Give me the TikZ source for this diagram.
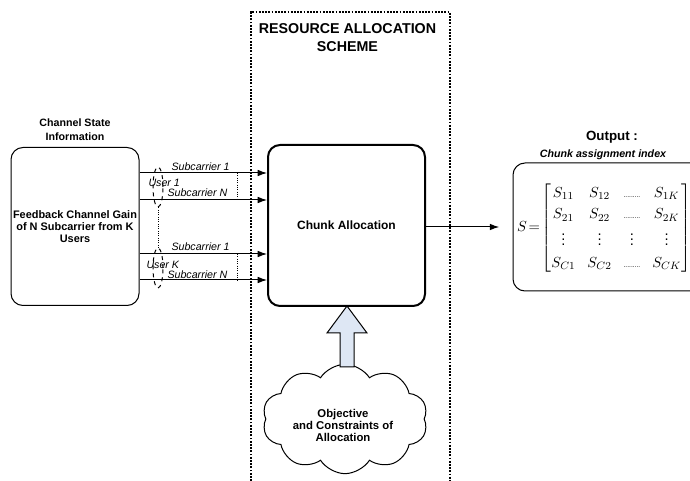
\documentclass[tikz,border=0pt]{standalone}
\usepackage{fontspec}
\setmainfont{Liberation Sans}
\usepackage{amsmath}
\usetikzlibrary{arrows.meta,shapes.geometric,shapes.symbols,positioning,calc}

\tikzset{every picture/.style={line width=0.75pt}}
\tikzset{
  roundbox/.style={draw, rounded corners=9pt, fill=white, inner sep=0pt},
  headtxt/.style={font=\fontsize{8}{10.5}\selectfont\bfseries, align=center, inner sep=0.75pt},
  boxtxt/.style={font=\fontsize{8.2}{9}\selectfont\bfseries, align=center, inner sep=0.75pt},
  subtxt/.style={font=\fontsize{8}{9}\selectfont\itshape, inner sep=0.75pt},
  feed/.style={-{Latex[length=7pt,width=5pt]}},
  usergrp/.style={draw, dashed, ellipse, minimum width=7.5pt, minimum height=30pt, inner sep=0pt},
  frameline/.style={densely dotted, line width=1.4pt},
}

\begin{document}
\begin{tikzpicture}[x=0.75pt,y=0.75pt,yscale=-1,xscale=1]
\useasboundingbox (0,0) rectangle (690,481);

%Shape: dotted frame of the scheme
\draw [frameline] (251,481) -- (251,12) -- (450,12) -- (450,481) ;

% Boxes
\node [roundbox, minimum width=96pt, minimum height=118.5pt] (fb) at (75,226.5) {};
\node [roundbox, line width=1.5pt, minimum width=117.75pt, minimum height=120.75pt] (alloc) at (346.5,225.5) {};
\node [roundbox, minimum width=144pt, minimum height=96pt] (out) at (609,227) {};

% Cloud
\node [draw, cloud, cloud puffs=10, cloud puff arc=115, aspect=1.55, minimum width=124pt, minimum height=82pt, inner sep=0pt] (goal) at (345,419) {};

%Shape: block arrow
\draw [fill={rgb, 255:red, 222; green, 231; blue, 244 }] (340,367) -- (340,333) -- (327,333) -- (347,306) -- (367,333) -- (354,333) -- (354,367) -- cycle ;

% Rows of feedback lines
\coordinate (r1) at (237,173);
\coordinate (r2) at (237,200);
\coordinate (r3) at (237,254);
\coordinate (r4) at (237,280);
\draw [feed] (fb.east |- r1) -- (alloc.west |- r1) ;
\draw [feed] (fb.east |- r2) -- (alloc.west |- r2) ;
\draw [feed] (fb.east |- r3) -- (alloc.west |- r3) ;
\draw [feed] (fb.east |- r4) -- (alloc.west |- r4) ;
\draw [densely dotted] (r1) -- (r2) ;
\draw [densely dotted] (r3) -- (r4) ;

% User groups
\node [usergrp] (grp1) at (158,187) {};
\node [usergrp] (grpK) at (158,268) {};
\draw [densely dotted] (grp1.south) -- (grpK.north) ;

% Output
\draw [feed] (alloc.east |- out) -- ([xshift=-10pt]out.west) ;

% Text Node
\node [font=\fontsize{10.7}{13.5}\selectfont\bfseries, align=center, inner sep=0.75pt] (title) at (347.5,38) {RESOURCE ALLOCATION\\SCHEME};
% Text Node
\node [headtxt] (csi) at (75,130) {Channel State\\Information};
% Text Node
\node [boxtxt] (fbtxt) at (fb.center) {Feedback Channel Gain\\of N Subcarrier from K\\Users};
% Text Node
\node [font=\fontsize{9}{11}\selectfont\bfseries, inner sep=0.75pt] (alloctxt) at (alloc.center) {Chunk Allocation};
% Text Node
\node [font=\fontsize{8.5}{9}\selectfont\bfseries, align=center, inner sep=0.75pt] (goaltxt) at (343,425) {Objective\\and Constraints of\\Allocation};
% Text Node
\node [font=\fontsize{10}{12}\selectfont\bfseries, inner sep=0.75pt] (outhead) at (612,137) {Output :};
% Text Node
\node [font=\fontsize{8}{10}\selectfont\bfseries\itshape, inner sep=0.75pt] (outsub) at (603,155) {Chunk assignment index};
% Text Node
\node [inner sep=0.75pt, font=\fontsize{11}{13}\selectfont] (mat) at (604,228) {$S\!=\!\setlength{\arraycolsep}{4.5pt}\renewcommand{\arraystretch}{1.25}\begin{bmatrix} S_{11} & S_{12} & \text{\tiny .........} & S_{1K}\\ S_{21} & S_{22} & \text{\tiny .........} & S_{2K}\\ \vdots & \vdots & \vdots & \vdots\\ S_{C1} & S_{C2} & \text{\tiny .........} & S_{CK} \end{bmatrix}$};

% Text Node
\node [subtxt, anchor=base west] (sc1a) at (170,171) {Subcarrier 1};
\node [subtxt, anchor=base west] (usr1) at (147,187) {User 1};
\node [subtxt, anchor=base west] (scNa) at (166,197) {Subcarrier N};
\node [subtxt, anchor=base west] (sc1b) at (170,251) {Subcarrier 1};
\node [subtxt, anchor=base west] (usrK) at (145,269) {User K};
\node [subtxt, anchor=base west] (scNb) at (166,279) {Subcarrier N};

\end{tikzpicture}
\end{document}
